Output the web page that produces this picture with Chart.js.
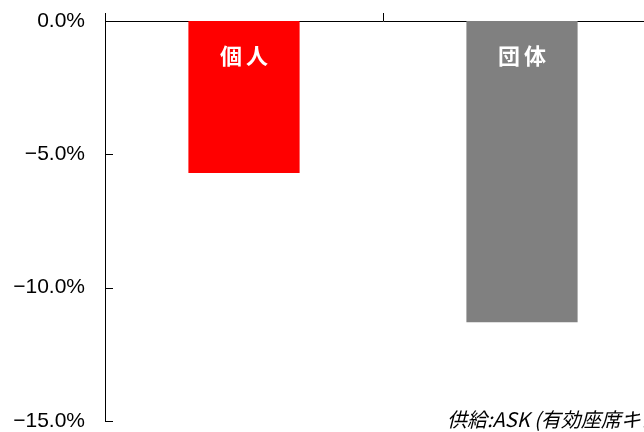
<!DOCTYPE html>
<html>
<head>
<meta charset="utf-8">
<script src="https://cdn.jsdelivr.net/npm/chart.js@4.4.1/dist/chart.umd.min.js"></script>
<style>
    html, body { margin: 0; padding: 0; background: #fff; overflow: hidden; }
    #wrap { width: 680px; height: 432px; }
</style>
</head>
<body>
<div id="wrap"><canvas id="chart"></canvas></div>
<script>
// Data
const categories = ['個人', '団体'];
const changeValues = [-5.7, -11.3];
const barColors = ['#ff0000', '#808080'];
const yTicks = [0, -5, -10, -15];
const noteText = '供給:ASK (有効座席キロ)';

const tickFont = '"Liberation Sans", Arial, sans-serif';
const jpFont = '"Noto Sans CJK JP", sans-serif';

function formatPct(v) {
    const s = Math.abs(v).toFixed(1) + '%';
    return v < 0 ? '\u2212' + s : s;
}

// draws the short y ticks on the inside of the axis
const innerTicks = {
    id: 'innerTicks',
    afterDraw(chart) {
        const ctx = chart.ctx;
        const y = chart.scales.y;
        ctx.save();
        ctx.strokeStyle = '#000';
        ctx.lineWidth = 1;
        yTicks.forEach(v => {
            const py = Math.round(y.getPixelForValue(v)) + 0.5;
            ctx.beginPath();
            ctx.moveTo(y.right, py);
            ctx.lineTo(y.right + 8, py);
            ctx.stroke();
        });
        ctx.restore();
    }
};

// category names inside the bars plus the note at the bottom
const barLabels = {
    id: 'barLabels',
    afterDatasetsDraw(chart) {
        const ctx = chart.ctx;
        const meta = chart.getDatasetMeta(0);
        const area = chart.chartArea;
        ctx.save();
        ctx.fillStyle = '#fff';
        ctx.font = 'bold 22px ' + jpFont;
        ctx.textAlign = 'center';
        ctx.textBaseline = 'middle';
        ctx.letterSpacing = '4px';
        meta.data.forEach((bar, i) => {
            ctx.fillText(categories[i], bar.x + 2, area.top + 35);
        });
        ctx.letterSpacing = '0px';
        ctx.fillStyle = '#000';
        ctx.font = 'italic 20px ' + jpFont;
        ctx.textAlign = 'left';
        ctx.fillText(noteText, 447, 419);
        ctx.restore();
    }
};

new Chart(document.getElementById('chart'), {
    type: 'bar',
    data: {
        labels: categories,
        datasets: [{
            data: changeValues,
            backgroundColor: barColors,
            borderWidth: 0,
            categoryPercentage: 1,
            barPercentage: 0.4
        }]
    },
    options: {
        responsive: true,
        maintainAspectRatio: false,
        animation: false,
        layout: { padding: { top: 13, right: 19, bottom: 11, left: 0 } },
        plugins: {
            legend: { display: false },
            tooltip: { enabled: false }
        },
        scales: {
            x: {
                position: 'top',
                afterFit: scale => {
                    scale.height = 8;
                    scale.paddingLeft = 0;
                    scale.paddingRight = 0;
                },
                grid: {
                    display: true,
                    offset: true,
                    drawOnChartArea: false,
                    drawTicks: true,
                    tickLength: 8,
                    color: '#000'
                },
                border: { display: true, color: '#000', width: 1 },
                ticks: { display: false }
            },
            y: {
                min: -15,
                max: 0,
                afterFit: scale => {
                    scale.width = 105;
                    scale.paddingTop = 0;
                    scale.paddingBottom = 0;
                },
                afterBuildTicks: scale => { scale.ticks = yTicks.map(v => ({ value: v })); },
                grid: { display: false, drawTicks: false },
                border: { display: true, color: '#000', width: 1 },
                ticks: {
                    padding: 20,
                    color: '#000',
                    font: { family: tickFont, size: 21 },
                    callback: v => formatPct(v)
                }
            }
        }
    },
    plugins: [innerTicks, barLabels]
});
</script>
</body>
</html>
